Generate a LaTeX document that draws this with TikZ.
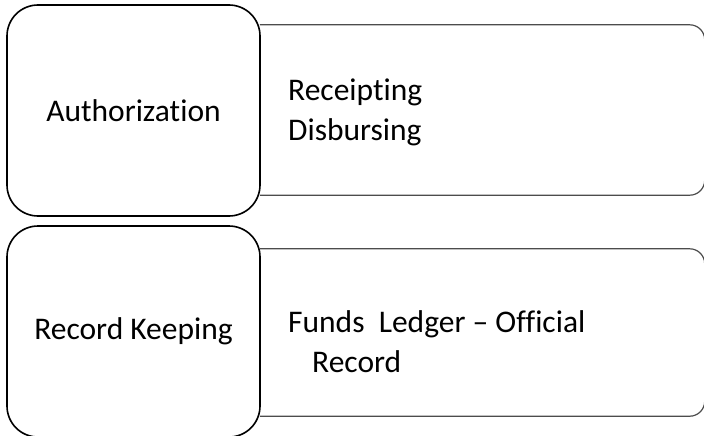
\documentclass[tikz,border=0pt]{standalone}
\usepackage{fontspec}
\setmainfont{Carlito}[Ligatures={TeX,NoCommon}]

\tikzset{heading/.style={draw, fill=white, line width=1.6pt, rounded corners=31pt, minimum width=253pt, minimum height=211pt, align=center, font=\fontsize{31.5}{40}\selectfont}}
\tikzset{panel/.style={minimum width=444.5pt, inner sep=0pt}}
\tikzset{outline/.style={draw=black!70, line width=1.2pt, rounded corners=15pt}}
\tikzset{detail/.style={align=left, inner sep=0pt, anchor=west, font=\fontsize{31.5}{40}\selectfont}}

\begin{document}
\begin{tikzpicture}[x=1pt, y=-1pt]
	\useasboundingbox (0,0) rectangle (704,436);

	\node[panel, minimum height=170pt] (auth-panel) at (482.25,110) {};
	\node[panel, minimum height=167pt] (record-panel) at (482.25,332.5) {};

	% right side only, the left edge is under the heading box
	\draw[outline] (auth-panel.south west) -- (auth-panel.south east) -- (auth-panel.north east) -- (auth-panel.north west);
	\draw[outline] (record-panel.south west) -- (record-panel.south east) -- (record-panel.north east) -- (record-panel.north west);

	\node[heading] (authorization) at (133.5,110.5) {Authorization};
	\node[heading] (record-keeping) at (133.5,331.5) {Record Keeping};

	\node[detail] (receipting) at (288,112) {Receipting\\Disbursing};
	\node[detail] (ledger) at (288,342) {Funds~~Ledger – Official\\\hspace*{24pt}Record};
\end{tikzpicture}
\end{document}
